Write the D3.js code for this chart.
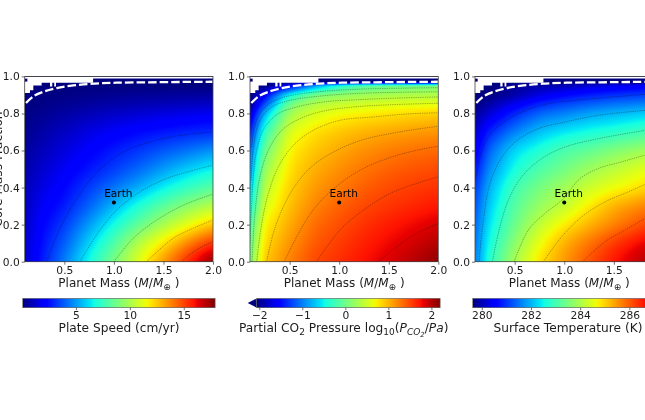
<!DOCTYPE html>
<html>
<head>
<meta charset="utf-8">
<script src="https://cdn.jsdelivr.net/npm/d3@7"></script>
<style>
  html, body { margin: 0; padding: 0; background: #fff; overflow: hidden; }
  #wrap { position: relative; width: 645px; height: 420px; overflow: hidden; filter: blur(0.4px); }
  canvas, svg { position: absolute; left: 0; top: 0; }
  text { font-family: "DejaVu Sans", sans-serif; fill: #1c1c1c; }
</style>
</head>
<body>
<div id="wrap">
  <canvas id="heat" width="645" height="420"></canvas>
  <svg id="chart" width="645" height="420"></svg>
</div>
<script>
// grid the three maps were read on
const massValues = [0.1, 0.25, 0.5, 0.75, 1, 1.25, 1.5, 1.75, 2];
const cmfValues = [0, 0.1, 0.2, 0.3, 0.4, 0.5, 0.6, 0.7, 0.8, 0.85, 0.9, 0.95, 0.97];

const speedGrid = [
  [1.2, 2.5, 4.5, 6.8, 9, 11.2, 13.5, 15.7, 17.9],
  [1.2, 2.3, 3.9, 6, 8, 10.3, 12, 13.9, 15.5],
  [1.1, 2.1, 3.3, 5, 6.8, 8.4, 10, 11.3, 12.6],
  [1, 1.8, 2.7, 4, 5.5, 7, 8.3, 9.4, 10.3],
  [0.9, 1.5, 2.3, 3.3, 4.3, 5.3, 6.5, 7.4, 8.2],
  [0.7, 1.2, 1.9, 2.6, 3.3, 4.1, 5, 5.9, 6.6],
  [0.5, 0.9, 1.5, 2.1, 2.7, 3.2, 3.8, 4.3, 4.9],
  [0.3, 0.6, 1.1, 1.6, 2, 2.35, 2.6, 2.85, 3],
  [0.15, 0.3, 0.6, 0.9, 1.15, 1.35, 1.55, 1.7, 1.85],
  [0.08, 0.15, 0.35, 0.55, 0.7, 0.85, 0.95, 1.05, 1.15],
  [0.06, 0.08, 0.15, 0.25, 0.35, 0.42, 0.48, 0.53, 0.58],
  [0.06, 0.06, 0.06, 0.06, 0.06, 0.06, 0.06, 0.06, 0.06],
  [0.06, 0.06, 0.06, 0.06, 0.06, 0.06, 0.06, 0.06, 0.06],
];
const pressureGrid = [
  [0.07, 0.92, 1.25, 1.5, 1.62, 1.75, 1.87, 2, 2.15],
  [-0.05, 0.82, 1.15, 1.42, 1.55, 1.68, 1.79, 1.9, 2.02],
  [-0.2, 0.72, 1.05, 1.33, 1.47, 1.6, 1.7, 1.79, 1.88],
  [-0.5, 0.55, 0.95, 1.22, 1.38, 1.5, 1.58, 1.65, 1.72],
  [-0.7, 0.4, 0.88, 1.12, 1.27, 1.39, 1.49, 1.55, 1.6],
  [-0.9, 0.22, 0.8, 1.03, 1.17, 1.29, 1.38, 1.44, 1.49],
  [-1.1, 0, 0.72, 0.93, 1.06, 1.17, 1.25, 1.31, 1.35],
  [-1.4, -0.3, 0.58, 0.8, 0.92, 1.01, 1.07, 1.12, 1.15],
  [-1.8, -0.75, 0.3, 0.55, 0.68, 0.74, 0.79, 0.84, 0.88],
  [-2.06, -1.2, 0.05, 0.35, 0.47, 0.53, 0.58, 0.6, 0.62],
  [-2.06, -1.6, -0.45, 0.05, 0.18, 0.26, 0.31, 0.34, 0.36],
  [-2.06, -2.06, -1.6, -0.9, -0.4, -0.15, -0.05, 0, 0.05],
  [-2.06, -2.06, -2.06, -2.06, -2.06, -2.06, -2.06, -2.06, -2.06],
];
const temperatureGrid = [
  [281.6, 282.8, 284, 284.9, 285.5, 286.1, 286.6, 287, 287.4],
  [281.5, 282.6, 283.7, 284.6, 285.3, 285.8, 286.3, 286.7, 287],
  [281.4, 282.4, 283.4, 284.2, 284.8, 285.25, 285.65, 286.05, 286.4],
  [281.25, 282.2, 283.2, 283.8, 284.2, 284.8, 285.3, 285.6, 285.9],
  [281.05, 282, 283, 283.5, 283.9, 284.3, 284.6, 284.85, 285.1],
  [280.75, 281.7, 282.6, 283.1, 283.45, 283.85, 284.15, 284.45, 284.7],
  [280.4, 281.4, 282.3, 282.7, 283.1, 283.3, 283.6, 283.85, 284],
  [280.1, 280.9, 281.6, 282.1, 282.4, 282.6, 282.75, 282.95, 283.1],
  [279.8, 280.2, 280.9, 281.4, 281.6, 281.85, 282, 282.15, 282.3],
  [279.63, 279.9, 280.4, 280.9, 281.15, 281.35, 281.5, 281.6, 281.7],
  [279.63, 279.63, 279.9, 280.3, 280.6, 280.8, 280.95, 281.05, 281.15],
  [279.63, 279.63, 279.8, 279.9, 280, 280.2, 280.35, 280.45, 280.5],
  [279.63, 279.63, 279.63, 279.63, 279.63, 279.63, 279.63, 279.63, 279.63],
];

// contour lines as [mass, core mass fraction]
const speedContours = [
  [[0.321, 0], [0.405, 0.117], [0.506, 0.233], [0.624, 0.341], [0.758, 0.44], [0.926, 0.53], [1.128, 0.601], [1.363, 0.646], [1.632, 0.679], [1.995, 0.7]],
  [[0.657, 0], [0.859, 0.171], [1.027, 0.278], [1.262, 0.377], [1.531, 0.449], [1.766, 0.488], [1.995, 0.521]],
  [[1, 0], [1.195, 0.126], [1.43, 0.224], [1.7, 0.305], [1.995, 0.364]],
  [[1.33, 0], [1.598, 0.126], [1.8, 0.18], [1.995, 0.224]],
  [[1.68, 0], [1.83, 0.063], [1.995, 0.108]],
];
const pressureContours = [
  [[0.117, 0.619], [0.15, 0.736], [0.234, 0.826], [0.369, 0.874], [0.571, 0.903], [0.874, 0.921], [1.244, 0.932], [2, 0.939]],
  [[0.11, 0.44], [0.14, 0.637], [0.2, 0.763], [0.32, 0.835], [0.504, 0.871], [0.773, 0.892], [1.143, 0.907], [1.58, 0.914], [2, 0.917]],
  [[0.1, 0.1], [0.127, 0.404], [0.167, 0.601], [0.251, 0.727], [0.386, 0.799], [0.571, 0.835], [0.84, 0.862], [1.176, 0.874], [1.58, 0.883], [2, 0.889]],
  [[0.12, 0], [0.15, 0.26], [0.2, 0.458], [0.285, 0.601], [0.42, 0.709], [0.605, 0.772], [0.84, 0.813], [1.143, 0.835], [1.513, 0.847], [2, 0.855]],
  [[0.167, 0], [0.218, 0.206], [0.285, 0.368], [0.386, 0.512], [0.537, 0.628], [0.739, 0.709], [1.008, 0.763], [1.344, 0.781], [1.68, 0.797], [2, 0.804]],
  [[0.268, 0], [0.335, 0.153], [0.436, 0.296], [0.571, 0.422], [0.739, 0.521], [0.975, 0.601], [1.244, 0.659], [1.513, 0.691], [1.78, 0.715], [2, 0.731]],
  [[0.446, 0], [0.554, 0.117], [0.689, 0.242], [0.806, 0.323], [1.008, 0.422], [1.244, 0.503], [1.513, 0.562], [1.78, 0.601], [2, 0.623]],
  [[0.773, 0], [1.008, 0.171], [1.244, 0.278], [1.513, 0.368], [1.78, 0.422], [2, 0.458]],
  [[1.395, 0], [1.58, 0.081], [1.78, 0.153], [2, 0.206]],
];
const temperatureContours = [
  [[0.107, 0.44], [0.15, 0.566], [0.235, 0.673], [0.369, 0.745], [0.571, 0.808], [0.84, 0.853], [1.176, 0.874], [1.815, 0.903], [2, 0.91]],
  [[0.14, 0], [0.184, 0.224], [0.251, 0.422], [0.352, 0.548], [0.504, 0.646], [0.739, 0.718], [1.008, 0.754], [1.344, 0.79], [1.815, 0.817], [2, 0.826]],
  [[0.275, 0], [0.335, 0.153], [0.436, 0.332], [0.571, 0.458], [0.773, 0.557], [1.008, 0.619], [1.344, 0.664], [1.815, 0.709], [2, 0.727]],
  [[0.494, 0], [0.638, 0.171], [0.806, 0.261], [0.975, 0.332], [1.16, 0.449], [1.344, 0.503], [1.58, 0.539], [1.815, 0.575], [2, 0.6]],
  [[0.79, 0], [0.975, 0.135], [1.176, 0.242], [1.412, 0.323], [1.647, 0.377], [1.815, 0.417], [2, 0.458]],
  [[1.186, 0], [1.412, 0.108], [1.614, 0.171], [1.815, 0.233], [2, 0.287]],
];

// white dashed limit and the stepped blank corner, same for all panels
const limitCurve = [[0.113, 0.856], [0.187, 0.892], [0.288, 0.917], [0.422, 0.937], [0.59, 0.951], [0.791, 0.961], [1.027, 0.966], [1.363, 0.968], [1.7, 0.97], [1.995, 0.971]];
const blankSteps = [[0.1, 0.91], [0.153, 0.925], [0.187, 0.951], [0.271, 0.966], [0.355, 0.945], [0.378, 0.966], [0.398, 0.945], [0.416, 0.966], [0.79, 0.989], [2, 0.989]];
const navySpeck = [[0.1, 0.972], [0.127, 0.972]];
const earth = [1, 0.32];

const massTicks = [0.5, 1, 1.5, 2];
const cmfTicks = [0, 0.2, 0.4, 0.6, 0.8, 1];
const speedTicks = [5, 10, 15];
const pressureTicks = [-2, -1, 0, 1, 2];
const temperatureTicks = [280, 282, 284, 286];

const jetStops = [0, 0.11, 0.125, 0.35, 0.375, 0.64, 0.66, 0.89, 0.91, 1];
const jetColors = ["#00007f", "#0000ff", "#0000ff", "#00e5f7", "#14ffe2", "#eeff08", "#ffec00", "#ff1300", "#e80000", "#7f0000"];

const panels = [
  {
    left: 24.7, right: 213, grid: speedGrid, contours: speedContours,
    domain: [0.06, 17.9], barRange: [22.7, 215], barTicks: speedTicks, tickFmt: d3.format("d"),
    title: [{ t: "Plate Speed (cm/yr)" }], titleX: 119,
  },
  {
    left: 250, right: 438.3, grid: pressureGrid, contours: pressureContours,
    domain: [-2.06, 2.2], barRange: [256.7, 440], barTicks: pressureTicks, tickFmt: d3.format("d"),
    arrowTip: 247.7,
    title: [
      { t: "Partial CO" }, { t: "2", sub: true }, { t: " Pressure log" }, { t: "10", sub: true }, { t: "(" },
      { t: "P", i: true }, { t: "CO", sub: true, i: true }, { t: "2", sub2: true, i: true }, { t: "/" }, { t: "Pa", i: true }, { t: ")" },
    ],
    titleX: 343.7,
  },
  {
    left: 475, right: 663.4, grid: temperatureGrid, contours: temperatureContours,
    domain: [279.63, 287.45], barRange: [472.7, 665], barTicks: temperatureTicks, tickFmt: d3.format("d"),
    title: [{ t: "Surface Temperature (K)" }], titleX: 568,
  },
];

const axTop = 76.4;
const axBottom = 261.7;
const barTop = 298.5;
const barBottom = 307.7;

const svg = d3.select("#chart");
const ctx = document.getElementById("heat").getContext("2d");

const yScale = d3.scaleLinear().domain([0, 1]).range([axBottom, axTop]);

// bilinear lookup in a table
const valueAt = (grid, m, c) => {
  const i = Math.min(Math.max(d3.bisectRight(massValues, m) - 1, 0), massValues.length - 2);
  const j = Math.min(Math.max(d3.bisectRight(cmfValues, c) - 1, 0), cmfValues.length - 2);
  const tx = Math.max(0, Math.min(1, (m - massValues[i]) / (massValues[i + 1] - massValues[i])));
  const ty = Math.max(0, Math.min(1, (c - cmfValues[j]) / (cmfValues[j + 1] - cmfValues[j])));
  const a = grid[j][i] * (1 - tx) + grid[j][i + 1] * tx;
  const b = grid[j + 1][i] * (1 - tx) + grid[j + 1][i + 1] * tx;
  return a * (1 - ty) + b * ty;
};

// small average so the table's grid lines do not show as kinks
const smoothAt = (grid, m, c) => {
  const dm = 0.015 + 0.05 * Math.min(1, (m - 0.1) / 0.4);
  const dc = 0.035 * (1 - Math.min(1, c / 0.98) ** 4);
  let sum = 0;
  for (const a of [-1, 0, 1]) {
    for (const b of [-1, 0, 1]) {
      sum += valueAt(grid, m + a * dm, c + b * dc);
    }
  }
  return sum / 9;
};

const drawHeat = (panel, xScale, jet) => {
  const x0 = Math.round(panel.left);
  const x1 = Math.min(645, Math.round(panel.right));
  const y0 = Math.round(axTop);
  const y1 = Math.round(axBottom);
  const img = ctx.createImageData(x1 - x0, y1 - y0);
  for (let py = y0; py < y1; py++) {
    for (let px = x0; px < x1; px++) {
      const v = smoothAt(panel.grid, xScale.invert(px + 0.5), yScale.invert(py + 0.5));
      const col = d3.rgb(jet(v));
      const k = ((py - y0) * (x1 - x0) + (px - x0)) * 4;
      img.data[k] = col.r;
      img.data[k + 1] = col.g;
      img.data[k + 2] = col.b;
      img.data[k + 3] = 255;
    }
  }
  ctx.putImageData(img, x0, y0);
};

const addRichText = (sel, parts) => {
  let shift = 0;
  parts.forEach((p) => {
    const target = p.sub ? 3 : p.sub2 ? 5 : 0;
    sel
      .append("tspan")
      .attr("dy", target - shift)
      .attr("font-size", p.sub ? 9 : p.sub2 ? 7 : null)
      .attr("font-style", p.i ? "italic" : null)
      .text(p.t);
    shift = target;
  });
};

const styleAxis = (g) => {
  g.selectAll("path").remove();
  g.selectAll("line").attr("stroke", "#333").attr("stroke-width", 0.7);
  g.selectAll("text").attr("font-size", 10.7).attr("font-family", "DejaVu Sans").attr("fill", "#1c1c1c");
};

panels.forEach((panel, n) => {
  const xScale = d3.scaleLinear().domain([0.1, 2]).range([panel.left, panel.right]);
  const barScale = d3.scaleLinear().domain(panel.domain).range(panel.barRange);
  const jet = d3
    .scaleLinear()
    .domain(jetStops.map((s) => panel.domain[0] + s * (panel.domain[1] - panel.domain[0])))
    .range(jetColors)
    .clamp(true);

  drawHeat(panel, xScale, jet);

  const clipId = "clip" + n;
  svg
    .append("clipPath")
    .attr("id", clipId)
    .append("rect")
    .attr("x", panel.left)
    .attr("y", axTop)
    .attr("width", panel.right - panel.left)
    .attr("height", axBottom - axTop);

  const plot = svg.append("g").attr("clip-path", "url(#" + clipId + ")");

  const line = d3
    .line()
    .x((d) => xScale(d[0]))
    .y((d) => yScale(d[1]))
    .curve(d3.curveCatmullRom);

  plot
    .selectAll("path.contour")
    .data(panel.contours)
    .enter()
    .append("path")
    .attr("class", "contour")
    .attr("d", line)
    .attr("fill", "none")
    .attr("stroke", "#000")
    .attr("stroke-opacity", 0.5)
    .attr("stroke-width", 0.6)
    .attr("stroke-dasharray", "1.4 0.9");

  const blank = d3
    .area()
    .x((d) => xScale(d[0]))
    .y0(() => yScale(1))
    .y1((d) => yScale(d[1]))
    .curve(d3.curveStepAfter);

  plot.append("path").attr("d", blank(blankSteps)).attr("fill", "#fff");

  plot
    .append("rect")
    .attr("x", xScale(navySpeck[0][0]))
    .attr("y", yScale(0.988))
    .attr("width", xScale(navySpeck[1][0]) - xScale(navySpeck[0][0]))
    .attr("height", yScale(navySpeck[0][1]) - yScale(0.988))
    .attr("fill", "#00007f");

  plot
    .append("path")
    .attr("d", line(limitCurve))
    .attr("fill", "none")
    .attr("stroke", "#fff")
    .attr("stroke-width", 2.3)
    .attr("stroke-dasharray", "8.5 3");

  svg
    .append("circle")
    .attr("cx", xScale(earth[0]))
    .attr("cy", yScale(earth[1]))
    .attr("r", 2)
    .attr("fill", "#000");

  svg
    .append("text")
    .attr("x", xScale(earth[0]) + 4.5)
    .attr("y", 197)
    .attr("text-anchor", "middle")
    .attr("font-size", 10.6)
    .style("fill", "#000")
    .text("Earth");

  // frame
  svg
    .append("rect")
    .attr("x", panel.left)
    .attr("y", axTop)
    .attr("width", panel.right - panel.left)
    .attr("height", axBottom - axTop)
    .attr("fill", "none")
    .attr("stroke", "#444")
    .attr("stroke-width", 0.8);

  svg
    .append("g")
    .attr("transform", "translate(0," + axBottom + ")")
    .call(d3.axisBottom(xScale).tickValues(massTicks).tickFormat(d3.format(".1f")).tickSize(3).tickPadding(2))
    .call(styleAxis);

  svg
    .append("g")
    .attr("transform", "translate(" + panel.left + ",0)")
    .call(d3.axisLeft(yScale).tickValues(cmfTicks).tickFormat(d3.format(".1f")).tickSize(3).tickPadding(2))
    .call(styleAxis);

  const xLabel = svg
    .append("text")
    .attr("x", (panel.left + panel.right) / 2)
    .attr("y", 286.5)
    .attr("text-anchor", "middle")
    .attr("font-size", 12);
  addRichText(xLabel, [
    { t: "Planet Mass (" }, { t: "M", i: true }, { t: "/" }, { t: "M", i: true }, { t: "⊕", sub: true }, { t: " )" },
  ]);

  // colorbar
  const barX = d3.range(Math.ceil(panel.barRange[0]), Math.ceil(panel.barRange[1]));
  svg
    .append("g")
    .selectAll("rect")
    .data(barX)
    .enter()
    .append("rect")
    .attr("x", (d) => d)
    .attr("y", barTop)
    .attr("width", 1.2)
    .attr("height", barBottom - barTop)
    .attr("fill", (d) => jet(barScale.invert(d + 0.5)));

  if (panel.arrowTip) {
    svg
      .append("path")
      .attr(
        "d",
        "M" + panel.arrowTip + "," + (barTop + barBottom) / 2 +
          "L" + panel.barRange[0] + "," + barTop +
          "V" + barBottom + "Z"
      )
      .attr("fill", "#00007f");
  }

  svg
    .append("rect")
    .attr("x", panel.barRange[0])
    .attr("y", barTop)
    .attr("width", panel.barRange[1] - panel.barRange[0])
    .attr("height", barBottom - barTop)
    .attr("fill", "none")
    .attr("stroke", "#555")
    .attr("stroke-width", 0.6);

  svg
    .append("g")
    .attr("transform", "translate(0," + barBottom + ")")
    .call(d3.axisBottom(barScale).tickValues(panel.barTicks).tickFormat(panel.tickFmt).tickSize(2.5).tickPadding(1.5))
    .call(styleAxis);

  const barTitle = svg
    .append("text")
    .attr("x", panel.titleX)
    .attr("y", 332)
    .attr("text-anchor", "middle")
    .attr("font-size", 12.2);
  addRichText(barTitle, panel.title);
});

// y label is cut by the page edge in the reference
svg
  .append("text")
  .attr("transform", "translate(2," + (axTop + axBottom) / 2 + ") rotate(-90)")
  .attr("text-anchor", "middle")
  .attr("font-size", 12.2)
  .text("Core Mass Fraction");
</script>
</body>
</html>
